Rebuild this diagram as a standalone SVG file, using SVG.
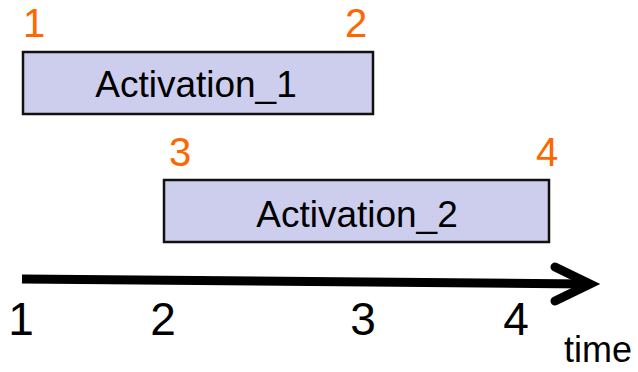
<svg xmlns="http://www.w3.org/2000/svg" width="638" height="372" viewBox="0 0 638 372">
  <style>
    text { font-family: "Liberation Sans", Arial, sans-serif; }
    .box { fill: #CDCDED; stroke: #111111; stroke-width: 2.5; }
    .label { font-size: 37px; fill: #000000; text-anchor: middle; }
    .mark { font-size: 40px; fill: #FF6600; text-anchor: middle; }
    .tick { font-size: 46px; fill: #000000; text-anchor: middle; }
    .axis { stroke: #000000; stroke-width: 9; fill: none; stroke-linecap: butt; }
    .head { stroke: #000000; stroke-width: 9; fill: none; stroke-linecap: round; stroke-linejoin: miter; }
  </style>

  <rect width="638" height="372" fill="#FFFFFF"/>

  <g id="activation1">
    <rect class="box" x="23" y="52" width="350" height="62"/>
    <text class="label" x="196" y="97">Activation_1</text>
    <text class="mark" x="34" y="37">1</text>
    <text class="mark" x="356" y="37">2</text>
  </g>

  <g id="activation2">
    <rect class="box" x="164" y="180" width="385" height="62"/>
    <text class="label" x="357" y="227">Activation_2</text>
    <text class="mark" x="180" y="166">3</text>
    <text class="mark" x="547" y="166">4</text>
  </g>

  <g id="connectors">
    <line class="axis" x1="22" y1="279" x2="586" y2="284"/>
    <polyline class="head" points="555,267 590,284 555,301"/>
  </g>

  <g id="time-axis-labels">
    <text class="tick" x="21" y="335">1</text>
    <text class="tick" x="163" y="335">2</text>
    <text class="tick" x="363" y="335">3</text>
    <text class="tick" x="516" y="335">4</text>
    <text x="564" y="362" font-size="36" fill="#000000">time</text>
  </g>
</svg>
